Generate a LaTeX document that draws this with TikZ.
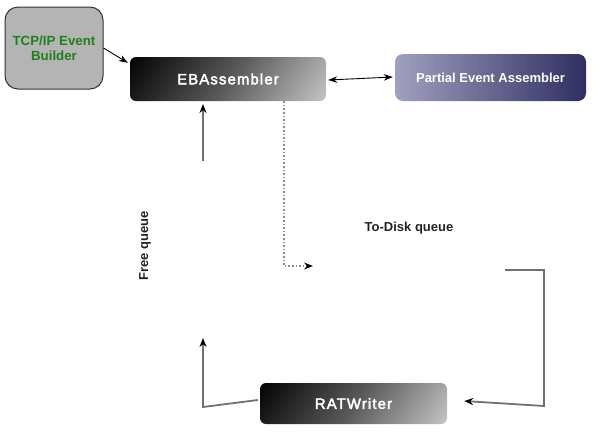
\documentclass[tikz,border=0pt]{standalone}
\usepackage{fontspec}
\setmainfont{Liberation Sans}
\newfontfamily\boxfont[LetterSpace=8,FakeBold=3]{Liberation Sans}
\usetikzlibrary{arrows.meta}
\definecolor{tcpfill}{HTML}{B4B4B4}
\definecolor{tcpgreen}{HTML}{1F801F}
\definecolor{linegray}{HTML}{707070}
\definecolor{pealight}{HTML}{A0A0C0}
\definecolor{peadark}{HTML}{2F2E60}
\definecolor{ebend}{HTML}{C8C8C8}
\definecolor{ebmid}{HTML}{585858}
\definecolor{labeltext}{HTML}{222222}
\pgfdeclareverticalshading{ebshade}{100bp}{color(0bp)=(ebend); color(14bp)=(ebend); color(50bp)=(ebmid); color(86bp)=(black); color(100bp)=(black)}
\begin{document}
\begin{tikzpicture}[x=1pt,y=-1pt,
  darkbox/.style={rounded corners=6pt, minimum width=196pt, minimum height=44pt,
    shading=ebshade, shading angle=55,
    text=white, font=\boxfont\fontsize{14.8}{16}\selectfont, inner sep=0pt},
  peabox/.style={rounded corners=8pt, minimum width=191pt, minimum height=47pt,
    shading=axis, left color=pealight, middle color=peadark, right color=peadark,
    text=white, font=\fontsize{13}{15}\selectfont\bfseries, inner sep=0pt},
  tcpbox/.style={draw=black!80, line width=1pt, fill=tcpfill, rounded corners=13pt,
    minimum width=98pt, minimum height=82pt, align=center, text=tcpgreen,
    font=\fontsize{13.3}{15}\selectfont\bfseries, inner sep=0pt},
  qlabel/.style={text=labeltext, font=\fontsize{13}{15}\selectfont\bfseries, inner sep=0pt},
  blackarrow/.style={draw=black, line width=0.9pt, -{Stealth[length=9pt,width=6.5pt]}},
  grayarrow/.style={draw=linegray, line width=1.8pt, -{Stealth[length=9pt,width=7pt,color=black]}},
  dotarrow/.style={draw=linegray!80, line width=1.6pt, dotted, -{Stealth[length=9pt,width=7pt,color=black,line width=0pt]}}
]
\useasboundingbox (0,0) rectangle (598,445);

\node[tcpbox] (tcp) at (54,48) {TCP/IP Event\\Builder};
\node[darkbox] (eb) at (228,79) {EBAssembler};
\node[peabox] (pea) at (490.5,77.5) {Partial Event Assembler};
\node[darkbox, minimum width=187pt, minimum height=41pt] (rat) at (353.5,403.5) {RATWriter};

\node[qlabel, rotate=90] (free) at (145,246) {Free queue};
\node[qlabel] (todisk) at (409,228) {To-Disk queue};

\coordinate (fqlow) at (203,161);
\coordinate (fqtop) at (203,104);
\coordinate (dotend) at (313,266);
\coordinate (tdstart) at (505,270);
\coordinate (ratup) at (203,338);

% TCP -> EB
\draw[blackarrow] (tcp.east |- 0,48) -- ([xshift=-2pt,yshift=-6pt]eb.north west);
% EB <-> PEA
\draw[blackarrow, {Stealth[length=9pt,width=6.5pt]}-{Stealth[length=9pt,width=6.5pt]}] ([xshift=2pt,yshift=-1pt]eb.east) -- ([xshift=-2pt,yshift=0.5pt]pea.west);
% free queue up
\draw[grayarrow] (fqlow) -- (fqtop);
% dotted to-disk
\draw[dotarrow] (eb.south -| 284,0) -- (284,266) -- (dotend);
% to-disk -> RAT
\draw[grayarrow] (tdstart) -- (544,270) -- (544,406) -- ([xshift=17pt,yshift=2.5pt]rat.east);
% RAT -> free queue
\draw[grayarrow] ([xshift=-2pt,yshift=3.5pt]rat.west) -- (203,407) -- (ratup);
\end{tikzpicture}
\end{document}
